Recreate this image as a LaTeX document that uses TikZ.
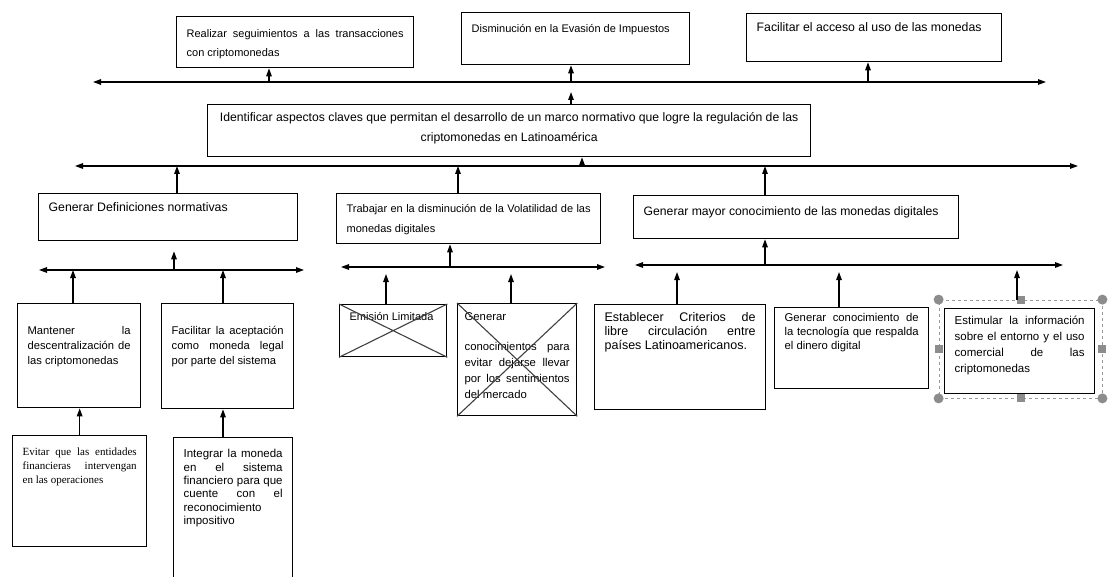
\documentclass[tikz,border=0pt]{standalone}
\usepackage{fontspec}
\setmainfont{Liberation Sans}
\newfontfamily\timesrm{Liberation Serif}
\usetikzlibrary{arrows.meta}
\newcommand{\inbox}[4]{\parbox[c][#2pt][t]{#1pt}{\vspace*{#3pt}#4}}
\newcommand{\fs}[2]{\fontsize{#1}{#2}\selectfont}

\begin{document}
\begin{tikzpicture}[x=1pt,y=-1pt,
  box/.style={draw,line width=1.3pt,anchor=north west,inner xsep=10pt,inner ysep=0pt},
  arr/.style={line width=1.3pt,-{Triangle[length=8pt,width=5.5pt]}},
  both/.style={line width=1.3pt,{Triangle[length=8pt,width=5.5pt]}-{Triangle[length=8pt,width=5.5pt]}},
  cross/.style={line width=1.1pt,black!75},
  selbox/.style={draw=black!40,dashed,line width=0.8pt,inner sep=0pt},
  handlec/.style={circle,fill=black!45,inner sep=0pt,minimum size=10pt},
  handles/.style={rectangle,fill=black!45,inner sep=0pt,minimum size=8pt}]
\useasboundingbox (0,0) rectangle (1110,577);

\node[box,font={\fs{11}{19}}] (realizar) at (176,16)
  {\inbox{217}{51}{13}{Realizar seguimientos a las transacciones\linebreak con criptomonedas}};
\node[box,font={\fs{11}{19}}] (disminucion) at (461,12)
  {\inbox{208}{52}{12}{Disminución en la Evasión de Impuestos}};
\node[box,font={\fs{12.3}{19}}] (facacceso) at (746,13)
  {\inbox{235}{48}{9}{Facilitar el acceso al uso de las monedas}};
\node[box,font={\fs{12.2}{20}}] (identificar) at (207,104)
  {\inbox{583}{52}{8}{\centering Identificar aspectos claves que permitan el desarrollo de un marco normativo que logre la regulación de las\\ criptomonedas en Latinoamérica}};

\node[box,font={\fs{12.3}{20}}] (gendef) at (38,193)
  {\inbox{239}{47}{9}{Generar Definiciones normativas}};
\node[box,font={\fs{11}{20}}] (trabajar) at (336,193)
  {\inbox{244}{50}{11}{Trabajar en la disminución de la Volatilidad de las\linebreak monedas digitales}};
\node[box,font={\fs{12.2}{20}}] (genmayor) at (633,195)
  {\inbox{305}{43}{11}{Generar mayor conocimiento de las monedas digitales}};

\node[box,font={\fs{11.2}{15}}] (mantener) at (17,303)
  {\inbox{103}{104}{23}{Mantener la\linebreak descentralización de\linebreak las criptomonedas}};
\node[box,font={\fs{11.2}{15}}] (facacept) at (161,303)
  {\inbox{112}{105}{23}{Facilitar la aceptación\linebreak como moneda legal\linebreak por parte del sistema}};
\node[box,font={\timesrm\fs{11}{14}}] (evitar) at (12,435)
  {\inbox{114}{111}{12}{Evitar que las entidades\linebreak financieras intervengan\linebreak en las operaciones}};
\node[box,font={\fs{11.5}{13.3}}] (integrar) at (173,437)
  {\inbox{99}{150}{12}{Integrar la moneda\linebreak en el sistema\linebreak financiero para que\linebreak cuente con el\linebreak reconocimiento\newline impositivo}};

\node[box,font={\fs{11}{15}}] (emision) at (339,304)
  {\inbox{87}{52}{8}{Emisión Limitada}};
\node[box,inner xsep=7pt,font={\fs{11.3}{16}}] (genconoc) at (457,303)
  {\inbox{105}{112}{9}{Generar\par\vspace{14pt}conocimientos para\linebreak evitar dejarse llevar\linebreak por los sentimientos\linebreak del mercado}};
\draw[cross] (emision.north west) -- (emision.south east) (emision.south west) -- (emision.north east);
\draw[cross] (genconoc.north west) -- (genconoc.south east) (genconoc.south west) -- (genconoc.north east);

\node[box,font={\fs{12.5}{14}}] (establecer) at (594,304)
  {\inbox{151}{105}{8}{Establecer Criterios de\linebreak libre circulación entre\linebreak países Latinoamericanos.}};
\node[box,font={\fs{11.3}{14}}] (gentec) at (774,307)
  {\inbox{134}{81}{6}{Generar conocimiento de\linebreak la tecnología que respalda\linebreak el dinero digital}};
\node[box,font={\fs{11.5}{16}}] (estimular) at (944,308)
  {\inbox{130}{85}{7}{Estimular la información\linebreak sobre el entorno y el uso\linebreak comercial de las\linebreak criptomonedas}};
\node[selbox,minimum width=163pt,minimum height=98pt] (sel) at (1020.5,349) {};
\foreach \a [count=\i] in {north west,north east,south west,south east}
  \node[handlec] (hc\i) at (sel.\a) {};
\foreach \a [count=\i] in {north,south,east,west}
  \node[handles] (hs\i) at (sel.\a) {};

\foreach \n/\x/\y in {l1w/93/82,l1e/1046/82,l2w/75/166,l2e/1078/166,
    l3w/39/270,l3e/304/270,l4w/341/267,l4e/605/267,l5w/635/265,l5e/1063/265,
    j1/269/82,j2/571/82,j3/868/82,k1/582/166,k2/177/166,k3/458/166,k4/765/166,
    m1/174/270,m2/73/270,m3/223/270,n1/450/267,n2/386/267,n3/511/267,
    p1/765/265,p2/677/265,p3/839/265,p4/1017/265}
  \coordinate (\n) at (\x,\y);

\draw[both] (l1w) -- (l1e);
\draw[both] (l2w) -- (l2e);
\draw[both] (l3w) -- (l3e);
\draw[both] (l4w) -- (l4e);
\draw[both] (l5w) -- (l5e);

\draw[arr] (j1) -- (j1 |- realizar.south);
\draw[arr] (j2) -- (j2 |- disminucion.south);
\draw[arr] (j3) -- (j3 |- facacceso.south);
\draw[arr,shorten >=10pt] (j2 |- identificar.north) -- (j2);
\draw[arr] (k1) -- (k1 |- identificar.south);
\draw[arr] (k2 |- gendef.north) -- (k2);
\draw[arr] (k3 |- trabajar.north) -- (k3);
\draw[arr] (k4 |- genmayor.north) -- (k4);
\draw[arr,shorten >=10pt] (m1) -- (m1 |- gendef.south);
\draw[arr] (m2 |- mantener.north) -- (m2);
\draw[arr] (m3 |- facacept.north) -- (m3);
\draw[arr] (evitar.north) -- (evitar.north |- mantener.south);
\draw[arr] (m3 |- integrar.north) -- (m3 |- facacept.south);
\draw[arr] (n1) -- (n1 |- trabajar.south);
\draw[arr,shorten >=7pt] (n2 |- emision.north) -- (n2);
\draw[arr,shorten >=7pt] (n3 |- genconoc.north) -- (n3);
\draw[arr] (p1) -- (p1 |- genmayor.south);
\draw[arr,shorten >=7pt] (p2 |- establecer.north) -- (p2);
\draw[arr,shorten >=7pt] (p3 |- gentec.north) -- (p3);
\draw[arr,shorten >=5pt] (p4 |- sel.north) -- (p4);
\end{tikzpicture}
\end{document}
